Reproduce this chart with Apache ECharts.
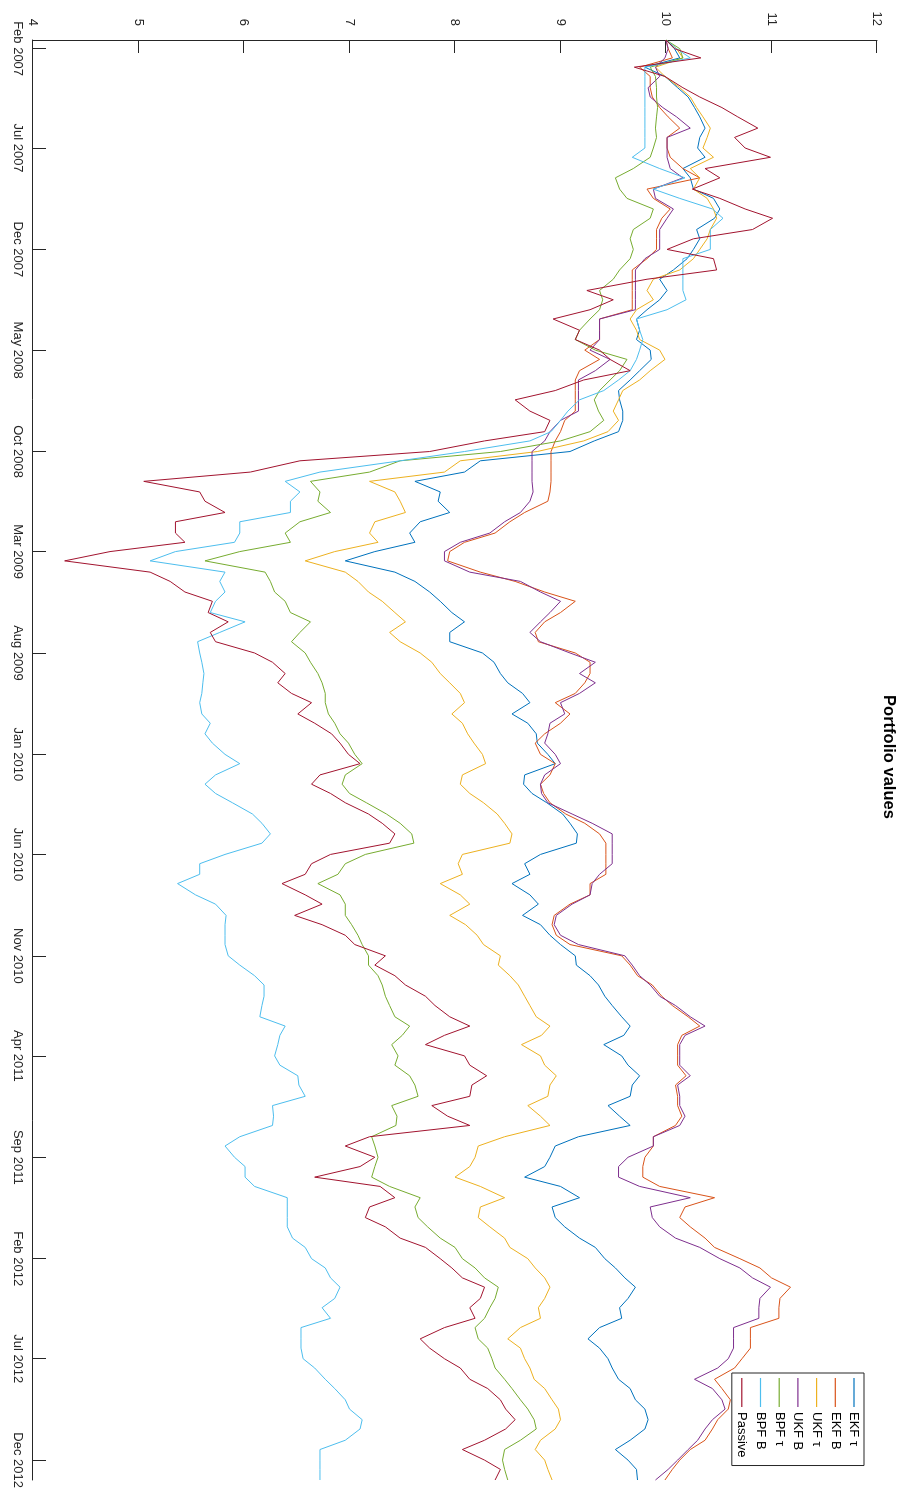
<!DOCTYPE html>
<html>
<head>
<meta charset="utf-8">
<title>Portfolio values</title>
<script src="https://cdn.jsdelivr.net/npm/echarts@6/dist/echarts.min.js"></script>
<style>
  html, body { margin: 0; padding: 0; background: #fff; }
  body { width: 908px; height: 1495px; overflow: hidden; position: relative; }
  /* The chart is laid out landscape and turned a quarter turn clockwise onto the portrait page. */
  #chart {
    position: absolute; left: 0; top: 0;
    width: 1495px; height: 908px;
    transform-origin: 0 0;
    transform: translate(908px, 0) rotate(90deg);
  }
</style>
</head>
<body>
<div id="chart"></div>
<script>
// Semi-monthly observation dates.
const sampleDates = [
  '2007-01-19','2007-02-01','2007-02-15','2007-03-01','2007-03-15','2007-04-01','2007-04-15','2007-05-01','2007-05-15','2007-06-01','2007-06-15','2007-07-01','2007-07-15','2007-08-01','2007-08-15','2007-09-01','2007-09-15','2007-10-01','2007-10-15','2007-11-01','2007-11-15','2007-12-01','2007-12-15',
  '2008-01-01','2008-01-15','2008-02-01','2008-02-15','2008-03-01','2008-03-15','2008-04-01','2008-04-15','2008-05-01','2008-05-15','2008-06-01','2008-06-15','2008-07-01','2008-07-15','2008-08-01','2008-08-15','2008-09-01','2008-09-15','2008-10-01','2008-10-15','2008-11-01','2008-11-15','2008-12-01','2008-12-15',
  '2009-01-01','2009-01-15','2009-02-01','2009-02-15','2009-03-01','2009-03-15','2009-04-01','2009-04-15','2009-05-01','2009-05-15','2009-06-01','2009-06-15','2009-07-01','2009-07-15','2009-08-01','2009-08-15','2009-09-01','2009-09-15','2009-10-01','2009-10-15','2009-11-01','2009-11-15','2009-12-01','2009-12-15',
  '2010-01-01','2010-01-15','2010-02-01','2010-02-15','2010-03-01','2010-03-15','2010-04-01','2010-04-15','2010-05-01','2010-05-15','2010-06-01','2010-06-15','2010-07-01','2010-07-15','2010-08-01','2010-08-15','2010-09-01','2010-09-15','2010-10-01','2010-10-15','2010-11-01','2010-11-15','2010-12-01','2010-12-15',
  '2011-01-01','2011-01-15','2011-02-01','2011-02-15','2011-03-01','2011-03-15','2011-04-01','2011-04-15','2011-05-01','2011-05-15','2011-06-01','2011-06-15','2011-07-01','2011-07-15','2011-08-01','2011-08-15','2011-09-01','2011-09-15','2011-10-01','2011-10-15','2011-11-01','2011-11-15','2011-12-01','2011-12-15',
  '2012-01-01','2012-01-15','2012-02-01','2012-02-15','2012-03-01','2012-03-15','2012-04-01','2012-04-15','2012-05-01','2012-05-15','2012-06-01','2012-06-15','2012-07-01','2012-07-15','2012-08-01','2012-08-15','2012-09-01','2012-09-15','2012-10-01','2012-10-15','2012-11-01','2012-11-15','2012-12-01','2012-12-15','2012-12-31'
];

// Portfolio values, one array per strategy (rows: 2007 ... 2012).
const ekfTau = [
  10.0, 10.08, 10.13, 9.8, 9.99, 10.11, 10.21, 10.27, 10.32, 10.37, 10.32, 10.3, 10.37, 10.16, 10.23, 10.26, 10.45, 10.51, 10.46, 10.29, 10.32, 10.26, 10.2,
  10.07, 9.94, 10.01, 9.94, 9.82, 9.72, 9.75, 9.72, 9.85, 9.86, 9.75, 9.66, 9.55, 9.56, 9.59, 9.59, 9.55, 9.32, 9.09, 8.24, 8.09, 7.62, 7.86, 7.84,
  7.95, 7.67, 7.57, 7.62, 7.24, 6.96, 7.43, 7.62, 7.76, 7.86, 7.97, 8.09, 7.95, 7.95, 8.26, 8.37, 8.43, 8.5, 8.64, 8.71, 8.54, 8.69, 8.77, 8.78,
  8.88, 8.95, 8.66, 8.65, 8.73, 8.87, 9.02, 9.09, 9.16, 9.15, 8.81, 8.66, 8.71, 8.54, 8.71, 8.79, 8.64, 8.81, 8.9, 9.0, 9.14, 9.15, 9.28, 9.36,
  9.42, 9.49, 9.58, 9.66, 9.6, 9.41, 9.58, 9.64, 9.75, 9.68, 9.66, 9.45, 9.56, 9.66, 9.17, 8.95, 8.9, 8.85, 8.66, 9.0, 9.18, 8.92, 8.95, 9.04,
  9.18, 9.33, 9.42, 9.52, 9.61, 9.71, 9.64, 9.56, 9.58, 9.37, 9.26, 9.37, 9.45, 9.49, 9.55, 9.66, 9.71, 9.8, 9.83, 9.8, 9.66, 9.52, 9.64, 9.72, 9.73
];
const ekfB = [
  10.0, 10.02, 10.06, 9.75, 9.85, 9.85, 9.87, 9.94, 10.02, 10.13, 10.01, 10.01, 10.04, 10.16, 10.32, 9.82, 9.88, 10.04, 9.96, 9.91, 9.91, 9.91, 9.82,
  9.68, 9.68, 9.68, 9.68, 9.68, 9.37, 9.37, 9.37, 9.23, 9.37, 9.18, 9.14, 9.14, 9.14, 9.14, 9.04, 9.0, 8.95, 8.91, 8.91, 8.91, 8.91, 8.9, 8.88,
  8.66, 8.52, 8.38, 8.09, 7.95, 7.93, 8.24, 8.57, 8.85, 9.14, 9.0, 8.85, 8.76, 8.79, 9.14, 9.28, 9.28, 9.23, 9.14, 8.95, 9.09, 9.0, 8.85, 8.76,
  8.81, 8.95, 8.9, 8.81, 8.84, 8.9, 9.05, 9.23, 9.37, 9.43, 9.43, 9.43, 9.43, 9.28, 9.28, 9.09, 8.94, 8.92, 8.96, 9.09, 9.58, 9.66, 9.73, 9.87,
  9.96, 10.06, 10.21, 10.32, 10.15, 10.11, 10.11, 10.11, 10.19, 10.09, 10.11, 10.11, 10.15, 10.09, 9.88, 9.88, 9.8, 9.78, 9.78, 9.94, 10.46, 10.18, 10.13, 10.23,
  10.37, 10.46, 10.7, 10.89, 11.0, 11.18, 11.08, 11.07, 11.07, 10.8, 10.8, 10.8, 10.72, 10.65, 10.46, 10.53, 10.61, 10.59, 10.49, 10.44, 10.37, 10.23, 10.13, 10.06, 9.99
];
const ukfTau = [
  10.0, 10.1, 10.16, 9.9, 9.99, 10.13, 10.23, 10.29, 10.35, 10.42, 10.39, 10.35, 10.45, 10.23, 10.32, 10.26, 10.39, 10.45, 10.48, 10.42, 10.39, 10.32, 10.26,
  10.13, 9.88, 9.82, 9.88, 9.72, 9.66, 9.72, 9.75, 9.94, 9.99, 9.85, 9.75, 9.59, 9.55, 9.5, 9.55, 9.45, 9.22, 8.78, 8.05, 7.9, 7.19, 7.43, 7.48,
  7.53, 7.24, 7.19, 7.27, 6.86, 6.58, 6.96, 7.08, 7.18, 7.31, 7.43, 7.53, 7.38, 7.48, 7.67, 7.78, 7.86, 7.95, 8.05, 8.09, 7.97, 8.07, 8.12, 8.18,
  8.26, 8.29, 8.07, 8.05, 8.14, 8.27, 8.4, 8.47, 8.54, 8.52, 8.07, 8.03, 8.07, 7.86, 8.05, 8.14, 7.95, 8.1, 8.21, 8.27, 8.43, 8.41, 8.52, 8.6,
  8.66, 8.71, 8.77, 8.9, 8.82, 8.63, 8.81, 8.85, 8.96, 8.9, 8.88, 8.69, 8.81, 8.9, 8.47, 8.22, 8.19, 8.14, 8.0, 8.24, 8.47, 8.24, 8.22, 8.33,
  8.47, 8.52, 8.69, 8.76, 8.85, 8.9, 8.85, 8.79, 8.81, 8.62, 8.5, 8.62, 8.66, 8.71, 8.75, 8.85, 8.92, 8.98, 9.0, 8.95, 8.81, 8.76, 8.85, 8.88, 8.92
];
const ukfB = [
  10.0, 10.02, 9.99, 9.9, 9.94, 9.83, 9.85, 9.97, 10.1, 10.23, 10.01, 10.01, 10.01, 10.04, 10.16, 9.88, 9.9, 10.07, 10.01, 9.94, 9.94, 9.94, 9.8,
  9.71, 9.71, 9.71, 9.71, 9.71, 9.37, 9.37, 9.37, 9.28, 9.47, 9.33, 9.17, 9.17, 9.17, 9.17, 9.0, 8.9, 8.85, 8.73, 8.73, 8.73, 8.73, 8.74, 8.71,
  8.62, 8.47, 8.33, 8.05, 7.9, 7.9, 8.14, 8.62, 8.81, 9.0, 8.9, 8.81, 8.71, 8.81, 9.09, 9.33, 9.18, 9.33, 9.18, 9.0, 9.04, 8.9, 8.88, 8.85,
  8.95, 9.0, 8.85, 8.81, 8.82, 8.88, 9.11, 9.3, 9.49, 9.49, 9.49, 9.49, 9.37, 9.3, 9.28, 9.11, 8.96, 8.94, 9.0, 9.17, 9.61, 9.68, 9.75, 9.85,
  9.94, 10.09, 10.23, 10.37, 10.18, 10.13, 10.13, 10.13, 10.23, 10.11, 10.13, 10.13, 10.18, 10.13, 9.88, 9.88, 9.64, 9.55, 9.55, 9.75, 10.23, 9.85, 9.87, 9.94,
  10.09, 10.32, 10.51, 10.7, 10.82, 10.99, 10.89, 10.88, 10.88, 10.64, 10.64, 10.64, 10.59, 10.49, 10.27, 10.44, 10.53, 10.56, 10.44, 10.37, 10.3, 10.21, 10.11, 10.02, 9.9
];
const bpfTau = [
  10.0, 10.13, 10.16, 9.85, 9.9, 9.91, 9.91, 9.92, 9.91, 9.9, 9.91, 9.88, 9.85, 9.69, 9.52, 9.56, 9.63, 9.88, 9.85, 9.69, 9.66, 9.69, 9.66,
  9.56, 9.5, 9.37, 9.4, 9.37, 9.28, 9.18, 9.14, 9.33, 9.63, 9.56, 9.47, 9.37, 9.32, 9.36, 9.41, 9.28, 9.0, 8.43, 7.48, 7.19, 6.63, 6.72, 6.7,
  6.82, 6.53, 6.39, 6.44, 5.96, 5.63, 6.2, 6.25, 6.29, 6.39, 6.44, 6.63, 6.53, 6.45, 6.58, 6.63, 6.7, 6.74, 6.77, 6.77, 6.8, 6.86, 6.91, 6.99,
  7.05, 7.12, 6.96, 6.93, 7.0, 7.16, 7.35, 7.48, 7.59, 7.61, 7.15, 6.96, 6.89, 6.7, 6.91, 6.96, 6.96, 7.02, 7.08, 7.12, 7.18, 7.18, 7.27, 7.31,
  7.34, 7.38, 7.43, 7.57, 7.5, 7.4, 7.46, 7.43, 7.57, 7.62, 7.65, 7.4, 7.45, 7.44, 7.21, 7.24, 7.27, 7.24, 7.21, 7.38, 7.67, 7.62, 7.65, 7.74,
  7.86, 8.0, 8.07, 8.19, 8.28, 8.41, 8.38, 8.33, 8.28, 8.19, 8.22, 8.31, 8.35, 8.38, 8.47, 8.54, 8.62, 8.69, 8.75, 8.77, 8.62, 8.47, 8.45, 8.47, 8.5
];
const bpfB = [
  10.0, 10.1, 10.23, 9.8, 9.8, 9.8, 9.8, 9.8, 9.8, 9.8, 9.8, 9.8, 9.68, 9.94, 10.18, 9.88, 10.13, 10.44, 10.54, 10.42, 10.42, 10.42, 10.16,
  10.16, 10.16, 10.16, 10.19, 10.01, 9.72, 9.75, 9.78, 9.75, 9.72, 9.66, 9.55, 9.41, 9.18, 9.07, 9.0, 8.91, 8.71, 8.09, 7.48, 6.72, 6.39, 6.53, 6.44,
  6.44, 5.96, 5.96, 5.91, 5.35, 5.11, 5.82, 5.77, 5.82, 5.73, 5.68, 6.01, 5.77, 5.56, 5.58, 5.6, 5.62, 5.61, 5.6, 5.58, 5.6, 5.68, 5.63, 5.7,
  5.82, 5.96, 5.73, 5.63, 5.73, 5.89, 6.08, 6.17, 6.25, 6.17, 5.82, 5.58, 5.58, 5.37, 5.54, 5.73, 5.83, 5.82, 5.82, 5.82, 5.85, 5.96, 6.1, 6.19,
  6.19, 6.17, 6.15, 6.39, 6.34, 6.32, 6.29, 6.34, 6.51, 6.52, 6.58, 6.27, 6.28, 6.27, 5.96, 5.82, 5.91, 6.01, 6.01, 6.1, 6.41, 6.41, 6.41, 6.41,
  6.46, 6.58, 6.64, 6.77, 6.82, 6.91, 6.86, 6.74, 6.82, 6.54, 6.54, 6.54, 6.56, 6.67, 6.77, 6.86, 6.96, 7.0, 7.12, 7.1, 6.96, 6.72, 6.72, 6.72, 6.72
];
const passive = [
  10.0, 10.08, 10.33, 9.7, 9.99, 10.16, 10.32, 10.53, 10.68, 10.87, 10.65, 10.75, 10.99, 10.37, 10.51, 10.25, 10.51, 10.75, 11.01, 10.82, 10.26, 10.01, 10.45,
  10.48, 9.82, 9.25, 9.5, 9.28, 8.93, 9.18, 9.14, 9.37, 9.47, 9.66, 9.22, 8.95, 8.57, 8.71, 8.9, 8.85, 8.28, 7.76, 6.53, 6.06, 5.05, 5.58, 5.63,
  5.82, 5.35, 5.35, 5.44, 4.73, 4.3, 5.11, 5.3, 5.44, 5.7, 5.66, 5.85, 5.68, 5.73, 6.1, 6.27, 6.39, 6.32, 6.45, 6.64, 6.51, 6.67, 6.83, 6.91,
  6.99, 7.1, 6.72, 6.64, 6.82, 6.96, 7.18, 7.31, 7.43, 7.38, 6.82, 6.64, 6.58, 6.36, 6.58, 6.74, 6.48, 6.74, 6.96, 7.05, 7.34, 7.24, 7.43, 7.53,
  7.72, 7.81, 7.95, 8.14, 7.9, 7.72, 8.09, 8.14, 8.3, 8.16, 8.14, 7.78, 7.93, 8.14, 7.19, 6.96, 7.24, 7.1, 6.67, 7.29, 7.43, 7.19, 7.15, 7.34,
  7.48, 7.72, 7.86, 7.97, 8.07, 8.28, 8.24, 8.14, 8.19, 7.9, 7.67, 7.76, 7.9, 8.05, 8.14, 8.31, 8.43, 8.48, 8.57, 8.48, 8.28, 8.07, 8.28, 8.43, 8.38
];

const seriesNames = ['EKF τ', 'EKF B', 'UKF τ', 'UKF B', 'BPF τ', 'BPF B', 'Passive'];
const seriesValues = [ekfTau, ekfB, ukfTau, ukfB, bpfTau, bpfB, passive];

// Date tick marks, every five months.
const dateTicks = [
  '2007-02-01','2007-07-01','2007-12-01','2008-05-01','2008-10-01',
  '2009-03-01','2009-08-01','2010-01-01','2010-06-01','2010-11-01',
  '2011-04-01','2011-09-01','2012-02-01','2012-07-01','2012-12-01'
];
const monthNames = ['Jan','Feb','Mar','Apr','May','Jun','Jul','Aug','Sep','Oct','Nov','Dec'];
const valueMin = 4, valueMax = 12, valueStep = 1;

// Styling
const palette = ['#0072BD', '#D95319', '#EDB120', '#7E2F8E', '#77AC30', '#4DBEEE', '#A2142F'];
const FONT = '"Liberation Sans", Arial, Helvetica, sans-serif';
const INK = '#262626';

// Dates are placed on a numeric (millisecond) axis so that tick positions can be listed explicitly.
function toTime(s) {
  const p = s.split('-').map(Number);
  return new Date(p[0], p[1] - 1, p[2]).getTime();
}
const tickTimes = dateTicks.map(toTime);

const chart = echarts.init(document.getElementById('chart'), null, { renderer: 'canvas', width: 1495, height: 908 });

chart.setOption({
  animation: false,
  backgroundColor: '#ffffff',
  textStyle: { fontFamily: FONT },
  title: {
    text: 'Portfolio values',
    left: 757, top: 11, textAlign: 'center', padding: 0,
    textStyle: { fontFamily: FONT, fontSize: 16.5, fontWeight: 'bold', color: '#000' }
  },
  legend: {
    data: seriesNames,
    orient: 'vertical',
    left: 1373, top: 44,
    icon: 'rect',
    itemWidth: 29, itemHeight: 1.2, itemGap: 4.7,
    padding: [3, 8, 3, 5],
    borderColor: INK, borderWidth: 1, backgroundColor: '#fff',
    selectedMode: false,
    textStyle: { fontFamily: FONT, fontSize: 13, color: '#000', lineHeight: 14 }
  },
  grid: { left: 40, right: 15, top: 31, bottom: 33 },
  xAxis: {
    type: 'value',
    min: toTime(sampleDates[0]),
    max: toTime(sampleDates[sampleDates.length - 1]),
    axisLine: { show: true, lineStyle: { color: INK, width: 1 } },
    axisTick: { show: true, inside: true, length: 13, customValues: tickTimes, lineStyle: { color: INK, width: 1 } },
    axisLabel: {
      customValues: tickTimes,
      color: INK, fontSize: 13, fontFamily: FONT, margin: 9,
      formatter: function (v) { const d = new Date(v); return monthNames[d.getMonth()] + ' ' + d.getFullYear(); }
    },
    splitLine: { show: false }
  },
  yAxis: {
    type: 'value',
    min: valueMin, max: valueMax, interval: valueStep,
    axisLine: { show: true, lineStyle: { color: INK, width: 1 } },
    axisTick: { show: true, inside: true, length: 13, lineStyle: { color: INK, width: 1 } },
    axisLabel: { color: INK, fontSize: 13, fontFamily: FONT, margin: 14 },
    splitLine: { show: false }
  },
  series: seriesNames.map(function (name, i) {
    return {
      name: name,
      type: 'line',
      symbol: 'none',
      showSymbol: false,
      silent: true,
      lineStyle: { width: 1, color: palette[i] },
      itemStyle: { color: palette[i] },
      data: sampleDates.map(function (d, k) { return [toTime(d), seriesValues[i][k]]; })
    };
  })
});
</script>
</body>
</html>
